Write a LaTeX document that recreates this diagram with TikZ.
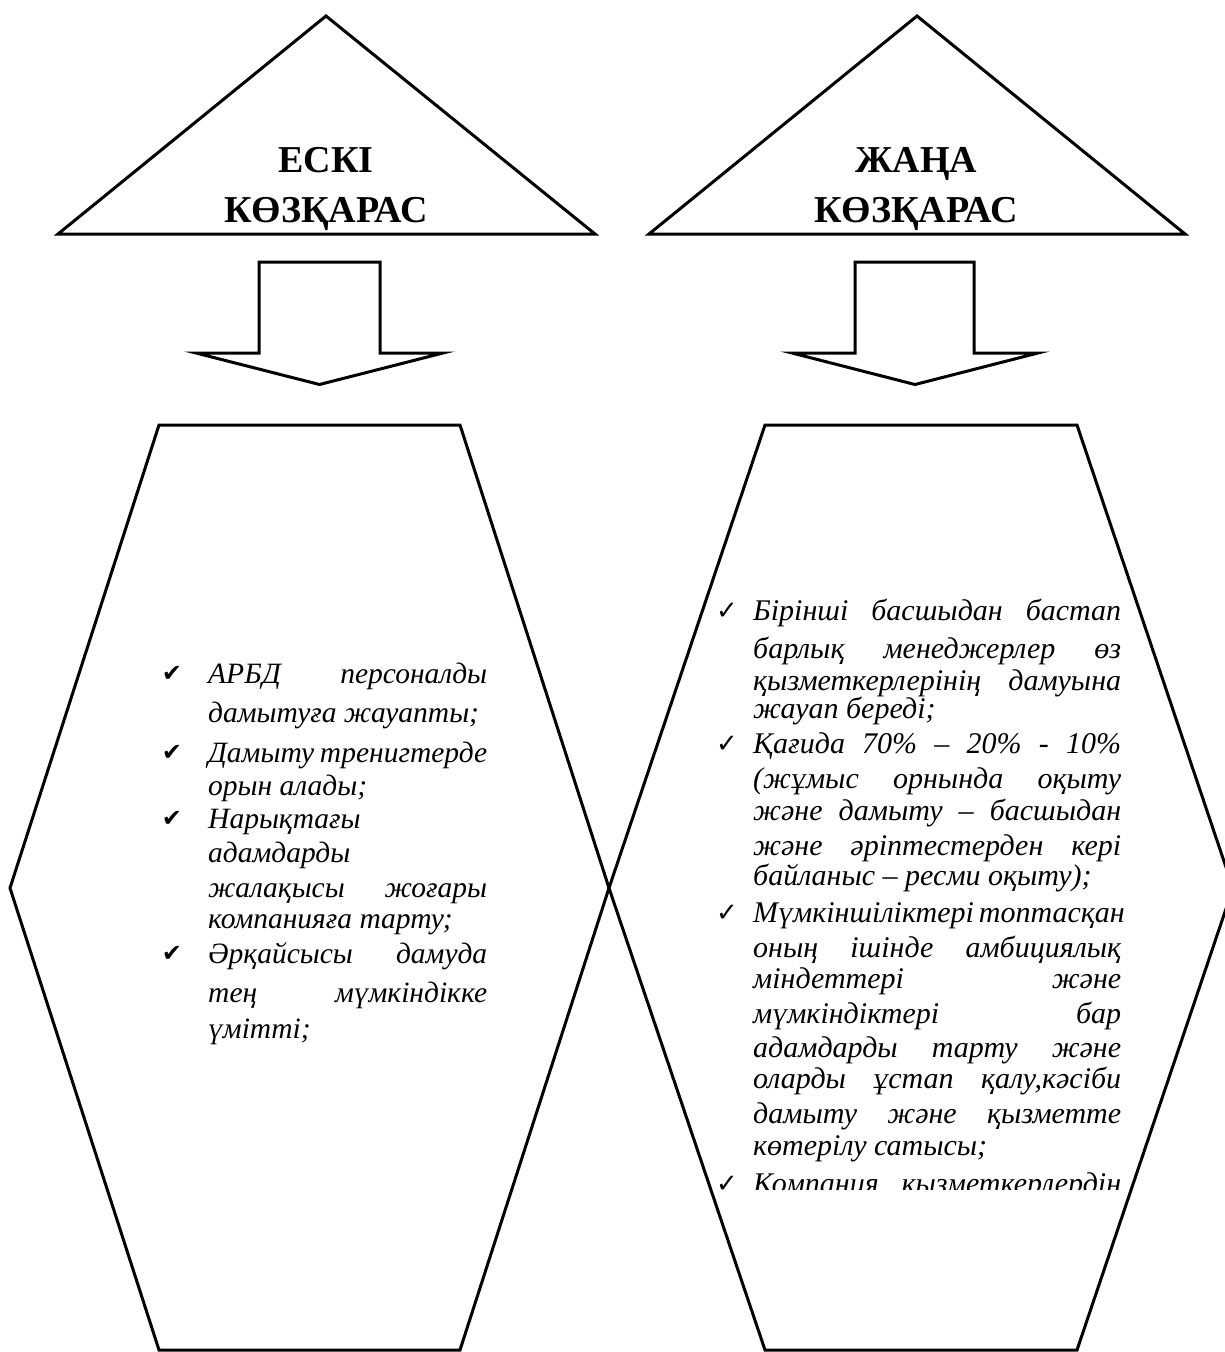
\documentclass[tikz,border=0pt]{standalone}
\usepackage{fontspec}
\setmainfont{Liberation Serif}
\newfontfamily\symf{DejaVu Sans}
\newcommand{\JustLine}[2]{\makebox[#1][s]{#2}}
\tikzset{
  shapeline/.style={line width=3pt, draw=black, line join=miter},
  titletext/.style={anchor=base, inner sep=0pt, font=\fontsize{38}{42}\selectfont\bfseries},
  ltext/.style={anchor=base west, inner sep=0pt, font=\fontsize{29.5}{32}\selectfont\itshape},
  rtext/.style={anchor=base west, inner sep=0pt, font=\fontsize{30}{32}\selectfont\itshape},
  ltick/.style={anchor=base, inner sep=0pt, font=\fontsize{24}{26}\symf},
  rtick/.style={anchor=base, inner sep=0pt, font=\fontsize{26}{28}\symf},
}
\begin{document}
\begin{tikzpicture}[x=1pt, y=-1pt]
\useasboundingbox (0,0) rectangle (1225,1352);

% triangles
\draw[shapeline] (326,16) -- (595,234) -- (58,234) -- cycle;
\draw[shapeline] (917,16) -- (1185,234) -- (649,234) -- cycle;
\node[titletext] (t1a) at (326,172) {ЕСКІ};
\node[titletext] (t1b) at (326,222) {КӨЗҚАРАС};
\node[titletext] (t2a) at (916,172) {ЖАҢА};
\node[titletext] (t2b) at (916,222) {КӨЗҚАРАС};

% block arrows
\draw[shapeline] (259,262) -- (380,262) -- (380,353) -- (443,353) -- (319.5,384.5) -- (196,353) -- (259,353) -- cycle;
\draw[shapeline] (855,262) -- (974,262) -- (974,353) -- (1038,353) -- (915,384.5) -- (792,353) -- (855,353) -- cycle;

% hexagons
\draw[shapeline] (159,425) -- (460,425) -- (609,888) -- (460,1350) -- (159,1350) -- (10,888) -- cycle;
\draw[shapeline] (765,425) -- (1077,425) -- (1233,888) -- (1077,1350) -- (765,1350) -- (609,888) -- cycle;

% left list
\node[ltick] (cl1) at (172,681) {✔};
\node[ltext] (l1) at (208,683) {\JustLine{279pt}{АРБД персоналды}};
\node[ltext] (l2) at (208,722) {дамытуға жауапты;};
\node[ltick] (cl2) at (172,760) {✔};
\node[ltext] (l3) at (208,762) {\JustLine{279pt}{Дамыту тренигтерде}};
\node[ltext] (l4) at (208,795) {орын алады;};
\node[ltick] (cl3) at (172,826) {✔};
\node[ltext] (l5) at (208,828) {Нарықтағы};
\node[ltext] (l6) at (208,862) {адамдарды};
\node[ltext] (l7) at (208,897) {\JustLine{279pt}{жалақысы жоғары}};
\node[ltext] (l8) at (208,928) {компанияға тарту;};
\node[ltick] (cl4) at (172,961) {✔};
\node[ltext] (l9) at (208,963) {\JustLine{279pt}{Әрқайсысы дамуда}};
\node[ltext] (l10) at (208,1002) {\JustLine{279pt}{тең мүмкіндікке}};
\node[ltext] (l11) at (208,1038) {үмітті;};

% right list
\node[rtick] (cr1) at (727,619) {✓};
\node[rtext] (r1) at (753,620) {\JustLine{368pt}{Бірінші басшыдан бастап}};
\node[rtext] (r2) at (753,658) {\JustLine{368pt}{барлық менеджерлер өз}};
\node[rtext] (r3) at (753,690) {\JustLine{368pt}{қызметкерлерінің дамуына}};
\node[rtext] (r4) at (753,718) {жауап береді;};
\node[rtick] (cr2) at (727,752) {✓};
\node[rtext] (r5) at (753,753) {\JustLine{368pt}{Қағида 70\% – 20\% - 10\%}};
\node[rtext] (r6) at (753,788) {\JustLine{368pt}{(жұмыс орнында оқыту}};
\node[rtext] (r7) at (753,820) {\JustLine{368pt}{және дамыту – басшыдан}};
\node[rtext] (r8) at (753,855) {\JustLine{368pt}{және әріптестерден кері}};
\node[rtext] (r9) at (753,885) {байланыс – ресми оқыту);};
\node[rtick] (cr3) at (727,921) {✓};
\node[rtext] (r10) at (753,922) {\JustLine{368pt}{Мүмкіншіліктері топтасқан}};
\node[rtext] (r11) at (753,957) {\JustLine{368pt}{оның ішінде амбициялық}};
\node[rtext] (r12) at (753,988) {\JustLine{368pt}{міндеттері және}};
\node[rtext] (r13) at (753,1023) {\JustLine{368pt}{мүмкіндіктері бар}};
\node[rtext] (r14) at (753,1057) {\JustLine{368pt}{адамдарды тарту және}};
\node[rtext] (r15) at (753,1088) {\JustLine{368pt}{оларды ұстап қалу,кәсіби}};
\node[rtext] (r16) at (753,1123) {\JustLine{368pt}{дамыту және қызметте}};
\node[rtext] (r17) at (753,1155) {көтерілу сатысы;};
\begin{scope}
  \clip (690,1160) rectangle (1130,1189);
  \node[rtick] (cr4) at (727,1192) {✓};
  \node[rtext] (r18) at (753,1193) {\JustLine{368pt}{Компания қызметкерлердің}};
\end{scope}
\end{tikzpicture}
\end{document}
